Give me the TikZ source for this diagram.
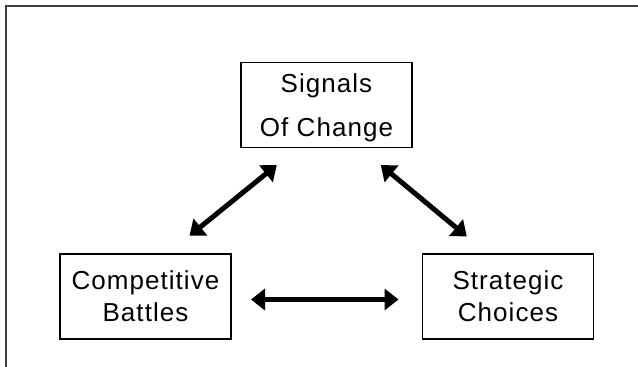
\documentclass[tikz,border=0pt]{standalone}
\usepackage{fontspec}
\setmainfont{Liberation Sans}[LetterSpace=4]
\usetikzlibrary{arrows.meta}

\tikzset{
  box/.style={draw=black, line width=1.3pt, minimum width=171pt, minimum height=85pt,
              inner sep=0pt, align=center, font=\fontsize{26pt}{32pt}\selectfont},
  link/.style={line width=5pt, {Triangle[length=14pt,width=21pt]}-{Triangle[length=14pt,width=21pt]}},
  frame/.style={draw=black!75, line width=2pt}
}

\begin{document}
\begin{tikzpicture}[x=1pt,y=-1pt]
  \useasboundingbox (0,0) rectangle (638,367);
  \clip (0,0) rectangle (638,367);

  % outer frame, running off the right and bottom edges
  \draw[frame] (5.6,5.6) rectangle (700,420);

  % the three boxes
  \node[box, font=\fontsize{26pt}{44pt}\selectfont, text height=69pt] (signals) at (326.5,105) {Signals\\Of Change};
  \node[box] (battles) at (145.5,296.5) {Competitive\\Battles};
  \node[box] (choices) at (508,296.5) {Strategic\\Choices};

  % arrow end points
  \coordinate (a1) at (189.5,235.8);
  \coordinate (a2) at (276.8,165);
  \coordinate (b1) at (380.8,165);
  \coordinate (b2) at (466.8,236.5);
  \coordinate (c1) at (251,299.5);
  \coordinate (c2) at (398.5,299.5);

  \draw[link] (a1) -- (a2);
  \draw[link] (b1) -- (b2);
  \draw[link] (c1) -- (c2);
\end{tikzpicture}
\end{document}
